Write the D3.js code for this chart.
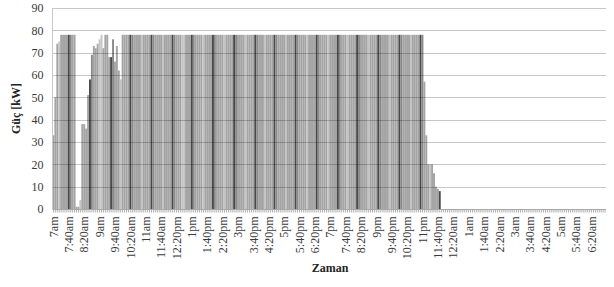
<!DOCTYPE html>
<html>
<head>
<meta charset="utf-8">
<script src="https://cdn.jsdelivr.net/npm/d3@7"></script>
<style>
  body { margin: 0; background: #fff; }
  svg { display: block; }
  .axis text { font-family: "Liberation Serif", "Times New Roman", serif; font-size: 12px; fill: #3a3a3a; }
  .title { font-family: "Liberation Serif", "Times New Roman", serif; font-size: 12px; font-weight: bold; fill: #222; }
</style>
</head>
<body>
<div id="chart"></div>
<script>
// power (kW) every 5 minutes, 7:00am .. 6:55am next day (one row per hour)
const power = [
  33, 50, 74, 75, 78, 78, 78, 78, 78, 78, 78, 78,   // 7am
  1, 1, 4, 38, 38, 36, 51, 58, 69, 73, 72, 74,      // 8am
  76, 78, 72, 78, 78, 68, 68, 76, 66, 73, 62, 58,   // 9am
  78, 78, 78, 78, 78, 78, 78, 78, 78, 78, 78, 78,   // 10am
  78, 78, 78, 78, 78, 78, 78, 78, 78, 78, 78, 78,   // 11am
  78, 78, 78, 78, 78, 78, 78, 78, 78, 78, 78, 78,   // 12pm
  78, 78, 78, 78, 78, 78, 78, 78, 78, 78, 78, 78,   // 1pm
  78, 78, 78, 78, 78, 78, 78, 78, 78, 78, 78, 78,   // 2pm
  78, 78, 78, 78, 78, 78, 78, 78, 78, 78, 78, 78,   // 3pm
  78, 78, 78, 78, 78, 78, 78, 78, 78, 78, 78, 78,   // 4pm
  78, 78, 78, 78, 78, 78, 78, 78, 78, 78, 78, 78,   // 5pm
  78, 78, 78, 78, 78, 78, 78, 78, 78, 78, 78, 78,   // 6pm
  78, 78, 78, 78, 78, 78, 78, 78, 78, 78, 78, 78,   // 7pm
  78, 78, 78, 78, 78, 78, 78, 78, 78, 78, 78, 78,   // 8pm
  78, 78, 78, 78, 78, 78, 78, 78, 78, 78, 78, 78,   // 9pm
  78, 78, 78, 78, 78, 78, 78, 78, 78, 78, 78, 78,   // 10pm
  78, 57, 33, 20, 20, 20, 16, 10, 9, 8, 0, 0,       // 11pm
  0, 0, 0, 0, 0, 0, 0, 0, 0, 0, 0, 0,               // 12am
  0, 0, 0, 0, 0, 0, 0, 0, 0, 0, 0, 0,               // 1am
  0, 0, 0, 0, 0, 0, 0, 0, 0, 0, 0, 0,               // 2am
  0, 0, 0, 0, 0, 0, 0, 0, 0, 0, 0, 0,               // 3am
  0, 0, 0, 0, 0, 0, 0, 0, 0, 0, 0, 0,               // 4am
  0, 0, 0, 0, 0, 0, 0, 0, 0, 0, 0, 0,               // 5am
  0, 0, 0, 0, 0, 0, 0, 0, 0, 0, 0, 0                // 6am
];

// a label every 8th slot (40 min)
const timeLabels = [
  "7am", "7:40am", "8:20am", "9am", "9:40am", "10:20am", "11am", "11:40am",
  "12:20pm", "1pm", "1:40pm", "2:20pm", "3pm", "3:40pm", "4:20pm", "5pm",
  "5:40pm", "6:20pm", "7pm", "7:40pm", "8:20pm", "9pm", "9:40pm", "10:20pm",
  "11pm", "11:40pm", "12:20am", "1am", "1:40am", "2:20am", "3am", "3:40am",
  "4:20am", "5am", "5:40am", "6:20am"
];
const labelStep = 8;
const yTicks = [0, 10, 20, 30, 40, 50, 60, 70, 80, 90];

const width = 614, height = 287;
const plot = { left: 52.5, right: 606, top: 8, bottom: 209 };

const svg = d3.select("#chart").append("svg")
  .attr("width", width).attr("height", height);

const x = d3.scaleBand()
  .domain(d3.range(power.length))
  .range([plot.left, plot.right])
  .padding(0);
const y = d3.scaleLinear().domain([0, 90]).range([plot.bottom, plot.top]);

// bars - the thin bars in the original alias into darker stripes every ~20px
const stripe = 20.65;
svg.append("g").selectAll("rect")
  .data(power).enter()
  .append("rect")
  .attr("x", (d, i) => x(i))
  .attr("width", x.bandwidth())
  .attr("y", d => y(d))
  .attr("height", d => plot.bottom - y(d))
  .attr("fill", (d, i) => {
    let m = (x(i) - plot.left + 6.2) % stripe;
    if (m < x.bandwidth()) return "#4a4a4a";
    if (m < 2 * x.bandwidth()) return "#8a8a8a";
    if (m > 11 && m < 13) return "#c4c4c4";
    return "#a4a4a4";
  });

// gridlines drawn over the bars, semi transparent
svg.append("g").selectAll("line")
  .data(yTicks).enter()
  .append("line")
  .attr("x1", plot.left).attr("x2", plot.right)
  .attr("y1", d => Math.round(y(d)) + 0.5).attr("y2", d => Math.round(y(d)) + 0.5)
  .attr("stroke", "#000").attr("stroke-opacity", d => d == 0 ? 0.35 : 0.22);

svg.append("line")
  .attr("x1", plot.left).attr("x2", plot.left)
  .attr("y1", plot.top).attr("y2", plot.bottom)
  .attr("stroke", "#c8c8c8");

// y axis
const yAxis = svg.append("g").attr("class", "axis")
  .attr("transform", "translate(" + (plot.left - 7) + ",0)")
  .call(d3.axisLeft(y).tickValues(yTicks).tickSize(0).tickPadding(2));
yAxis.select(".domain").remove();

// x axis
const xAxis = svg.append("g").attr("class", "axis")
  .attr("transform", "translate(0," + (Math.round(plot.bottom) + 0.5) + ")")
  .call(d3.axisBottom(x)
    .tickValues(x.domain())
    .tickSize(3)
    .tickFormat(i => i % labelStep == 0 ? timeLabels[i / labelStep] : ""));
xAxis.select(".domain").remove();
xAxis.selectAll("line").attr("stroke", "#b0b0b0");
xAxis.selectAll("text")
  .attr("transform", "rotate(-90)")
  .attr("text-anchor", "end")
  .attr("x", -7)
  .attr("y", 0)
  .attr("dy", "0.35em");

// titles
svg.append("text").attr("class", "title")
  .attr("transform", "translate(20," + ((plot.top + plot.bottom) / 2) + ") rotate(-90)")
  .attr("text-anchor", "middle")
  .text("Güç [kW]");
svg.append("text").attr("class", "title")
  .attr("x", 330).attr("y", 272)
  .attr("text-anchor", "middle")
  .text("Zaman");
</script>
</body>
</html>
